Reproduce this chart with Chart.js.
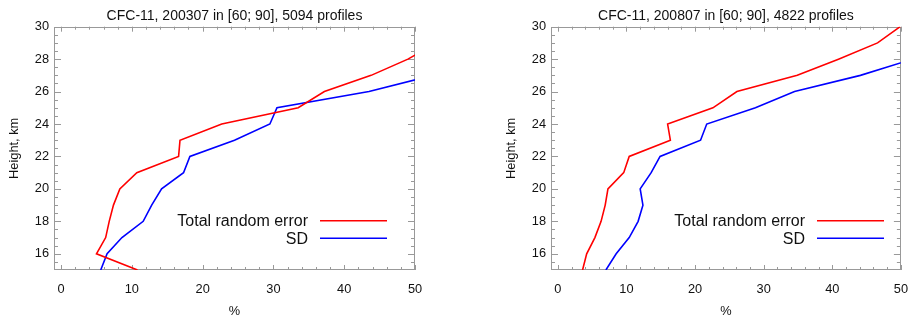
<!DOCTYPE html>
<html>
<head>
<meta charset="utf-8">
<script src="https://cdn.jsdelivr.net/npm/chart.js@4.4.0/dist/chart.umd.min.js"></script>
<style>
  body { margin: 0; background: #fff; width: 920px; height: 315px; overflow: hidden; position: relative; }
  canvas { position: absolute; top: 0; }
  #chart1 { left: 0; }
  #chart2 { left: 497px; }
</style>
</head>
<body>
<canvas id="chart1" width="460" height="315"></canvas>
<canvas id="chart2" width="423" height="315"></canvas>
<script>
// heights in km, values in %
const heights = [15, 16, 17, 18, 19, 20, 21, 22, 23, 24, 25, 26, 27, 28, 29, 30];
const xTicks = [0, 10, 20, 30, 40, 50];
const yTicks = [16, 18, 20, 22, 24, 26, 28, 30];
const seriesLabels = ['Total random error', 'SD'];

const errorJul2003 = [10.8, 5.0, 6.3, 6.8, 7.4, 8.3, 10.7, 16.6, 16.8, 22.7, 33.5, 37.2, 43.8, 49.0, 53.0, 57.0];
const sdJul2003    = [5.6, 6.5, 8.6, 11.6, 12.8, 14.2, 17.3, 18.2, 24.5, 29.5, 30.5, 43.5, 52.5, 57.0, 62.0, 67.0];
const errorJul2008 = [3.6, 4.2, 5.4, 6.3, 6.9, 7.3, 9.6, 10.4, 16.4, 16.0, 22.6, 26.1, 34.9, 40.9, 46.6, 49.9];
const sdJul2008    = [7.0, 8.5, 10.4, 11.7, 12.4, 12.0, 13.6, 14.9, 20.8, 21.7, 28.8, 34.5, 44.1, 51.7, 56.0, 60.0];

const FONT = 'Liberation Sans, Arial, Helvetica, sans-serif';
const TEXT = '#111';

// IDL style box with inward ticks on all four sides
const idlFrame = {
    id: 'idlFrame',
    beforeDatasetsDraw(chart) {
        const { ctx, chartArea: a, scales: { x, y } } = chart;
        ctx.save();
        ctx.strokeStyle = '#999';
        ctx.lineWidth = 1;
        ctx.strokeRect(Math.round(a.left) + 0.5, Math.round(a.top) + 0.5,
            Math.round(a.width) - 1, Math.round(a.height) - 1);
        ctx.beginPath();
        for (let v = 0; v <= 50; v += 2) {
            const px = Math.round(x.getPixelForValue(v)) + 0.5;
            const len = v % 10 === 0 ? 5 : 3;
            ctx.moveTo(px, a.bottom); ctx.lineTo(px, a.bottom - len);
            ctx.moveTo(px, a.top); ctx.lineTo(px, a.top + len);
        }
        for (let v = 15.5; v <= 30; v += 0.5) {
            const py = Math.round(y.getPixelForValue(v)) + 0.5;
            const len = v % 2 === 0 ? 7 : 4;
            ctx.moveTo(a.left, py); ctx.lineTo(a.left + len, py);
            ctx.moveTo(a.right, py); ctx.lineTo(a.right - len, py);
        }
        ctx.stroke();
        ctx.restore();
    }
};

// legend drawn inside the plot: text on the left, line sample on the right
const inlineLegend = {
    id: 'inlineLegend',
    afterDatasetsDraw(chart) {
        const { ctx, chartArea: a } = chart;
        ctx.save();
        ctx.font = '16px ' + FONT;
        ctx.fillStyle = '#111';
        ctx.textAlign = 'right';
        ctx.textBaseline = 'middle';
        chart.data.datasets.forEach((ds, i) => {
            const yy = a.top + 194 + i * 17.6;
            ctx.fillText(ds.label, a.left + 254, yy + 1);
            ctx.strokeStyle = ds.borderColor;
            ctx.lineWidth = ds.borderWidth;
            ctx.beginPath();
            ctx.moveTo(a.left + 266, yy);
            ctx.lineTo(a.left + 333, yy);
            ctx.stroke();
        });
        ctx.restore();
    }
};

function makeChart(id, title, errorVals, sdVals, padRight) {
    return new Chart(document.getElementById(id), {
        type: 'line',
        data: {
            datasets: [
                {
                    label: seriesLabels[0],
                    data: heights.map((h, i) => ({ x: errorVals[i], y: h })),
                    borderColor: '#ff0000',
                    borderWidth: 1.6,
                    pointRadius: 0,
                    tension: 0
                },
                {
                    label: seriesLabels[1],
                    data: heights.map((h, i) => ({ x: sdVals[i], y: h })),
                    borderColor: '#0000ff',
                    borderWidth: 1.6,
                    pointRadius: 0,
                    tension: 0
                }
            ]
        },
        options: {
            responsive: false,
            animation: false,
            layout: { padding: { left: 0, right: padRight, top: 0, bottom: 0 } },
            plugins: {
                legend: { display: false },
                tooltip: { enabled: false },
                title: {
                    display: true,
                    text: title,
                    fullSize: false,
                    color: TEXT,
                    font: { family: FONT, size: 14, weight: 'normal' },
                    padding: { top: 7.4, bottom: 2.5 }
                }
            },
            scales: {
                x: {
                    type: 'linear',
                    min: -1,
                    max: 50,
                    afterBuildTicks: s => { s.ticks = xTicks.map(v => ({ value: v })); },
                    afterFit: s => { s.height = 45; },
                    grid: { display: false, drawTicks: false },
                    border: { display: false },
                    ticks: { color: TEXT, font: { family: FONT, size: 12.8 }, padding: 12, maxRotation: 0 },
                    title: { display: true, text: '%', color: TEXT, font: { family: FONT, size: 12.8, lineHeight: 1 }, padding: { top: -3, bottom: -3 } }
                },
                y: {
                    type: 'linear',
                    min: 15,
                    max: 30,
                    afterBuildTicks: s => { s.ticks = yTicks.map(v => ({ value: v })); },
                    afterFit: s => { s.width = 54; },
                    grid: { display: false, drawTicks: false },
                    border: { display: false },
                    ticks: { color: TEXT, font: { family: FONT, size: 12.8 }, padding: 5 },
                    title: { display: true, text: 'Height, km', color: TEXT, font: { family: FONT, size: 12.8 }, padding: { top: 7, bottom: 0 } }
                }
            }
        },
        plugins: [idlFrame, inlineLegend]
    });
}

makeChart('chart1', 'CFC-11, 200307 in [60; 90], 5094 profiles', errorJul2003, sdJul2003, 45);
makeChart('chart2', 'CFC-11, 200807 in [60; 90], 4822 profiles', errorJul2008, sdJul2008, 8);
</script>
</body>
</html>
